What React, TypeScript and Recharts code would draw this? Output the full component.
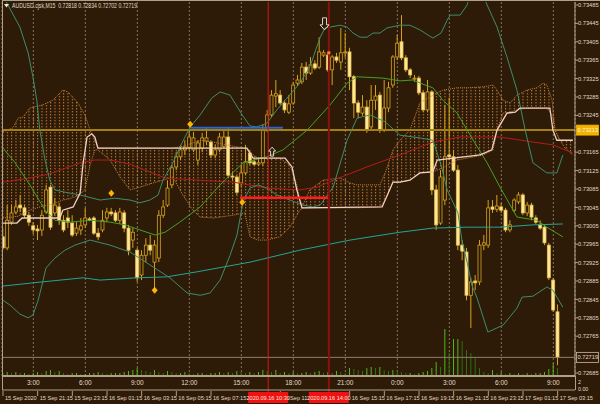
import React from 'react';
import {
  ComposedChart, Bar, Line, Area, Scatter, XAxis, YAxis, ReferenceLine, CartesianGrid,
} from 'recharts';

// ---------------- data ----------------
const opens = [
  0.72981, 0.72957, 0.73013, 0.73035, 0.73050, 0.73044, 0.73028, 0.73005, 0.72998, 0.72996,
  0.73035, 0.73089, 0.73033, 0.73046, 0.73017, 0.73022, 0.73011, 0.72989, 0.72996, 0.73007,
  0.73020, 0.73022, 0.72989, 0.72996, 0.73022, 0.73035, 0.73033, 0.73017, 0.73033, 0.73000,
  0.72974, 0.72952, 0.72898, 0.72941, 0.72963, 0.72926, 0.72935, 0.73028, 0.73050, 0.73094,
  0.73133, 0.73155, 0.73170, 0.73176, 0.73170, 0.73148, 0.73174, 0.73189, 0.73187, 0.73159,
  0.73170, 0.73178, 0.73198, 0.73113, 0.73111, 0.73098, 0.73120, 0.73163, 0.73144, 0.73139,
  0.73142, 0.73213, 0.73246, 0.73287, 0.73289, 0.73272, 0.73252, 0.73272, 0.73315, 0.73318,
  0.73350, 0.73337, 0.73357, 0.73350, 0.73376, 0.73376, 0.73344, 0.73372, 0.73361, 0.73381,
  0.73383, 0.73329, 0.73272, 0.73250, 0.73263, 0.73220, 0.73278, 0.73289, 0.73213, 0.73261,
  0.73311, 0.73372, 0.73405, 0.73370, 0.73344, 0.73324, 0.73326, 0.73294, 0.73257, 0.73296,
  0.73083, 0.73011, 0.73061, 0.73159, 0.73155, 0.73126, 0.72963, 0.72948, 0.72854, 0.72885,
  0.72883, 0.72963, 0.72963, 0.73046, 0.73041, 0.73046, 0.73039, 0.72996, 0.73039, 0.73057,
  0.73072, 0.73033, 0.73050, 0.73022, 0.73007, 0.73002, 0.72963, 0.72887, 0.72818,
];
const highs = [
  0.73000, 0.73050, 0.73050, 0.73061, 0.73072, 0.73050, 0.73035, 0.73013, 0.73007, 0.73039,
  0.73094, 0.73094, 0.73065, 0.73055, 0.73028, 0.73039, 0.73028, 0.73013, 0.73022, 0.73044,
  0.73024, 0.73026, 0.73000, 0.73039, 0.73044, 0.73044, 0.73039, 0.73044, 0.73039, 0.73007,
  0.73000, 0.72957, 0.72952, 0.72978, 0.72985, 0.72974, 0.73039, 0.73061, 0.73104, 0.73137,
  0.73165, 0.73181, 0.73191, 0.73213, 0.73209, 0.73191, 0.73207, 0.73218, 0.73191, 0.73181,
  0.73207, 0.73213, 0.73218, 0.73122, 0.73115, 0.73137, 0.73181, 0.73170, 0.73152, 0.73152,
  0.73224, 0.73257, 0.73300, 0.73322, 0.73300, 0.73278, 0.73289, 0.73318, 0.73333, 0.73359,
  0.73361, 0.73372, 0.73365, 0.73415, 0.73387, 0.73383, 0.73376, 0.73381, 0.73435, 0.73424,
  0.73392, 0.73333, 0.73278, 0.73289, 0.73278, 0.73311, 0.73311, 0.73296, 0.73322, 0.73318,
  0.73376, 0.73420, 0.73463, 0.73376, 0.73348, 0.73333, 0.73331, 0.73300, 0.73322, 0.73300,
  0.73094, 0.73126, 0.73268, 0.73283, 0.73170, 0.73137, 0.72974, 0.72957, 0.72892, 0.72898,
  0.72974, 0.72985, 0.73061, 0.73061, 0.73072, 0.73055, 0.73044, 0.73017, 0.73065, 0.73078,
  0.73076, 0.73057, 0.73055, 0.73028, 0.73017, 0.73007, 0.72968, 0.72892, 0.72834,
];
const lows = [
  0.72952, 0.72952, 0.73007, 0.73031, 0.73035, 0.73022, 0.73005, 0.72987, 0.72974, 0.72983,
  0.73031, 0.72996, 0.73026, 0.73007, 0.72991, 0.73000, 0.72981, 0.72983, 0.72985, 0.73000,
  0.73015, 0.72985, 0.72974, 0.72991, 0.73013, 0.73026, 0.73013, 0.73009, 0.72991, 0.72941,
  0.72957, 0.72883, 0.72887, 0.72926, 0.72941, 0.72865, 0.72926, 0.73022, 0.73046, 0.73087,
  0.73126, 0.73148, 0.73159, 0.73170, 0.73165, 0.73137, 0.73165, 0.73181, 0.73152, 0.73152,
  0.73165, 0.73174, 0.73109, 0.73104, 0.73072, 0.73091, 0.73115, 0.73137, 0.73135, 0.73135,
  0.73135, 0.73209, 0.73241, 0.73263, 0.73268, 0.73250, 0.73248, 0.73268, 0.73309, 0.73313,
  0.73322, 0.73333, 0.73344, 0.73346, 0.73372, 0.73339, 0.73311, 0.73359, 0.73344, 0.73370,
  0.73300, 0.73239, 0.73239, 0.73244, 0.73207, 0.73213, 0.73257, 0.73207, 0.73209, 0.73252,
  0.73305, 0.73365, 0.73365, 0.73339, 0.73326, 0.73318, 0.73289, 0.73252, 0.73252, 0.73072,
  0.72996, 0.73007, 0.73050, 0.73148, 0.73122, 0.72952, 0.72930, 0.72843, 0.72783, 0.72865,
  0.72876, 0.72952, 0.72957, 0.73033, 0.73035, 0.73033, 0.72991, 0.72991, 0.73035, 0.73052,
  0.73028, 0.73026, 0.73017, 0.73009, 0.72996, 0.72963, 0.72887, 0.72818, 0.72702,
];
const closes = [
  0.72957, 0.73017, 0.73033, 0.73046, 0.73044, 0.73028, 0.73013, 0.72996, 0.72994, 0.73028,
  0.73083, 0.73002, 0.73050, 0.73017, 0.72996, 0.73013, 0.72985, 0.73000, 0.73005, 0.73022,
  0.73017, 0.72989, 0.72981, 0.73017, 0.73035, 0.73031, 0.73017, 0.73035, 0.73000, 0.72952,
  0.72991, 0.72892, 0.72941, 0.72963, 0.72952, 0.72963, 0.73028, 0.73046, 0.73087, 0.73131,
  0.73155, 0.73170, 0.73176, 0.73198, 0.73196, 0.73185, 0.73196, 0.73196, 0.73159, 0.73170,
  0.73198, 0.73198, 0.73115, 0.73111, 0.73078, 0.73120, 0.73144, 0.73142, 0.73139, 0.73142,
  0.73213, 0.73246, 0.73289, 0.73292, 0.73272, 0.73257, 0.73270, 0.73311, 0.73322, 0.73350,
  0.73337, 0.73355, 0.73348, 0.73383, 0.73381, 0.73344, 0.73372, 0.73365, 0.73381, 0.73383,
  0.73329, 0.73272, 0.73252, 0.73263, 0.73213, 0.73278, 0.73287, 0.73213, 0.73261, 0.73305,
  0.73372, 0.73402, 0.73370, 0.73344, 0.73333, 0.73326, 0.73294, 0.73257, 0.73296, 0.73083,
  0.73007, 0.73111, 0.73155, 0.73155, 0.73126, 0.72963, 0.72950, 0.72854, 0.72883, 0.72881,
  0.72963, 0.72968, 0.73044, 0.73041, 0.73048, 0.73039, 0.72996, 0.73007, 0.73061, 0.73072,
  0.73033, 0.73050, 0.73024, 0.73013, 0.73000, 0.72968, 0.72892, 0.72822, 0.72719,
];
const volumes = [
  60, 80, 60, 80, 60, 60, 40, 60, 80, 60,
  100, 120, 80, 100, 60, 40, 60, 60, 40, 40,
  60, 60, 80, 60, 40, 60, 60, 60, 80, 100,
  120, 160, 120, 100, 80, 120, 80, 60, 100, 80,
  60, 60, 80, 60, 40, 60, 60, 40, 60, 60,
  80, 60, 80, 60, 100, 80, 60, 80, 60, 80,
  120, 100, 80, 120, 60, 80, 60, 80, 60, 60,
  80, 60, 80, 100, 60, 80, 60, 100, 80, 60,
  160, 140, 120, 100, 160, 180, 160, 180, 120, 100,
  120, 100, 80, 60, 60, 40, 60, 80, 100, 160,
  280, 180, 940, 460, 740, 740, 700, 520, 460, 360,
  160, 80, 60, 120, 60, 80, 40, 60, 40, 60,
  40, 60, 40, 60, 60, 80, 140, 260, 160,
];

// indicator lines: [bar, price]
const upperBand: [number, number][] = [
  [0, 0.73507], [0.9, 0.73489], [3.9, 0.73437], [5.8, 0.73381], [6.9, 0.73329], [7.8, 0.73278],
  [8.5, 0.73213], [9.7, 0.73148], [10.8, 0.73104], [12, 0.73083], [14.3, 0.73078], [17.8, 0.73072],
  [22.4, 0.73061], [25.8, 0.73065], [29.3, 0.73061], [31.6, 0.73055], [33.9, 0.73061], [35.8, 0.73072],
  [36.9, 0.73104], [39.2, 0.73142], [41.3, 0.73185], [43.2, 0.73220], [45.5, 0.73246], [48.2, 0.73283],
  [50.1, 0.73296], [52.4, 0.73289], [55.2, 0.73246], [57, 0.73222], [58.6, 0.73220], [60.9, 0.73228],
  [63.2, 0.73257], [68.5, 0.73315], [70.8, 0.73350], [73.2, 0.73415], [74.3, 0.73435], [75.5, 0.73437],
  [77.8, 0.73441], [79.4, 0.73437], [80.8, 0.73424], [82.4, 0.73415], [84, 0.73415], [85.4, 0.73424],
  [87, 0.73424], [88.6, 0.73435], [91.6, 0.73441], [93.9, 0.73441], [96.2, 0.73431], [99.2, 0.73413],
  [101.1, 0.73424], [102.5, 0.73452], [103.2, 0.73463], [105.5, 0.73463], [107.1, 0.73485], [108.2, 0.73518],
  [110.1, 0.73522], [111.2, 0.73496], [114, 0.73437], [116.3, 0.73372], [118.6, 0.73300], [120.5, 0.73213],
  [122.3, 0.73142], [125.5, 0.73120], [127.8, 0.73120], [129.2, 0.73159],
];
const lowerBand: [number, number][] = [
  [0, 0.72843], [1.6, 0.72833], [3.9, 0.72813], [5.8, 0.72805], [6.9, 0.72811], [8.1, 0.72843],
  [9, 0.72876], [9.9, 0.72913], [12, 0.72935], [14.3, 0.72952], [16.6, 0.72963], [20.1, 0.72974],
  [24.7, 0.72963], [29.3, 0.72948], [33.9, 0.72920], [38.5, 0.72892], [42.5, 0.72859], [45.5, 0.72854],
  [47.8, 0.72859], [50.1, 0.72887], [52.4, 0.72941], [54, 0.72985], [55.4, 0.73057], [57, 0.73087],
  [58.8, 0.73094], [60.9, 0.73087], [63.2, 0.73072], [66.2, 0.73061], [69.2, 0.73050], [71.5, 0.73046],
  [73.2, 0.73050], [76.2, 0.73089], [79.4, 0.73191], [81.7, 0.73239], [84.7, 0.73246], [88.2, 0.73231],
  [91.6, 0.73202], [96.2, 0.73196], [99.2, 0.73191], [101.1, 0.73137], [102.5, 0.73083], [105, 0.73033],
  [105.9, 0.72974], [107.1, 0.72926], [108.2, 0.72876], [109.4, 0.72848], [111.9, 0.72774], [115.4, 0.72789],
  [118.6, 0.72826], [119.8, 0.72850], [122.3, 0.72852], [125.5, 0.72872], [126.9, 0.72865], [129.2, 0.72828],
];
const middleBand: [number, number][] = [
  [0, 0.73174], [2.8, 0.73142], [6.2, 0.73094], [9.7, 0.73039], [12, 0.73017], [15.5, 0.73013],
  [20.1, 0.73017], [24.7, 0.73013], [28.2, 0.73007], [31.6, 0.72996], [35.1, 0.72985], [37.4, 0.72991],
  [40.8, 0.73013], [45.5, 0.73046], [50.1, 0.73094], [55.4, 0.73142], [60.9, 0.73155], [64.6, 0.73170],
  [70.2, 0.73213], [75.5, 0.73268], [79.4, 0.73315], [81.7, 0.73329], [87.7, 0.73326], [91.6, 0.73320],
  [94.6, 0.73322], [97.4, 0.73311], [99.2, 0.73305], [101.5, 0.73278], [104.8, 0.73250], [107.1, 0.73213],
  [111.7, 0.73142], [114.7, 0.73089], [118.6, 0.73024], [123.2, 0.73017], [125.5, 0.73002], [129.2, 0.72981],
];
const redAverage: [number, number][] = [
  [0, 0.73100], [6.2, 0.73109], [10.8, 0.73118], [17.8, 0.73142], [21.2, 0.73148], [24.7, 0.73148],
  [29.3, 0.73139], [33.9, 0.73122], [37.4, 0.73109], [45.5, 0.73104], [53.1, 0.73100], [60.9, 0.73087],
  [68.5, 0.73083], [72.5, 0.73089], [76.2, 0.73104], [84, 0.73133], [91.6, 0.73159], [99.2, 0.73187],
  [105.5, 0.73198], [114.7, 0.73198], [122.3, 0.73187], [126.9, 0.73181], [131.5, 0.73163],
];
const longAverage: [number, number][] = [
  [0, 0.72874], [6.9, 0.72881], [18.5, 0.72892], [22.4, 0.72887], [30.9, 0.72892], [37.8, 0.72894],
  [44.8, 0.72905], [57, 0.72926], [68.5, 0.72952], [80.1, 0.72974], [91.6, 0.72991], [99.2, 0.73000],
  [107.1, 0.73002], [114.7, 0.73002], [122.3, 0.73007], [129.2, 0.73009],
];
const kijun: [number, number][] = [
  [0, 0.73011], [3.2, 0.73011], [4.4, 0.73022], [12.5, 0.73022], [13.2, 0.73024], [13.8, 0.73039],
  [16.2, 0.73046], [17.8, 0.73076], [18.5, 0.73142], [19.4, 0.73198], [20.5, 0.73205], [21.2, 0.73198],
  [21.9, 0.73174], [56.3, 0.73174], [57, 0.73163], [57.7, 0.73152], [65.1, 0.73152], [66.7, 0.73133],
  [67.8, 0.73083], [69, 0.73044], [87.5, 0.73046], [90, 0.73100], [91.6, 0.73100], [93.9, 0.73104],
  [96.2, 0.73120], [99.2, 0.73122], [100.2, 0.73148], [110.1, 0.73159], [112.8, 0.73170], [114, 0.73213],
  [116.3, 0.73250], [118.2, 0.73252], [119.3, 0.73261], [126.2, 0.73261], [126.9, 0.73213], [127.8, 0.73191],
  [131.5, 0.73191],
];
// cloud: [bar, upper span, lower span]
const kumo: [number, number, number][] = [
  [0, 0.73209, 0.73022], [2.3, 0.73218, 0.73024], [3.5, 0.73239, 0.73026], [4.6, 0.73241, 0.73031],
  [6.2, 0.73261, 0.73039], [9.2, 0.73268, 0.73048], [11.5, 0.73278, 0.73052], [13.8, 0.73300, 0.73061],
  [15, 0.73296, 0.73063], [17.3, 0.73272, 0.73070], [18.9, 0.73246, 0.73083], [20.1, 0.73213, 0.73137],
  [21.2, 0.73191, 0.73170], [21.9, 0.73174, 0.73170], [24.7, 0.73174, 0.73148], [27, 0.73174, 0.73111],
  [29.3, 0.73174, 0.73083], [31.6, 0.73174, 0.73089], [34.6, 0.73174, 0.73098], [36.9, 0.73174, 0.73104],
  [39.2, 0.73174, 0.73111], [41.5, 0.73178, 0.73072], [43.8, 0.73185, 0.73039], [45.5, 0.73191, 0.73024],
  [48.5, 0.73187, 0.73022], [53.1, 0.73178, 0.73028], [55.8, 0.73174, 0.73033], [57, 0.73165, 0.72981],
  [58.8, 0.73152, 0.72974], [60.9, 0.73152, 0.72974], [63.9, 0.73152, 0.72981], [66.2, 0.73137, 0.73002],
  [67.8, 0.73094, 0.73028], [68.5, 0.73061, 0.73039], [69.2, 0.73050, 0.73044], [70.8, 0.73083, 0.73044],
  [73.8, 0.73104, 0.73044], [77.8, 0.73109, 0.73044], [80.1, 0.73098, 0.73044], [81.7, 0.73094, 0.73044],
  [87, 0.73094, 0.73046], [88.2, 0.73120, 0.73061], [90, 0.73170, 0.73100], [91.6, 0.73191, 0.73100],
  [93.9, 0.73213, 0.73104], [96.2, 0.73272, 0.73120], [99.2, 0.73289, 0.73122], [101.5, 0.73300, 0.73131],
  [104.8, 0.73305, 0.73148], [107.1, 0.73305, 0.73152], [110.8, 0.73307, 0.73159], [113.1, 0.73311, 0.73170],
  [114, 0.73300, 0.73213], [115.4, 0.73278, 0.73250], [117, 0.73272, 0.73252], [118.6, 0.73289, 0.73257],
  [120.9, 0.73300, 0.73261], [123.2, 0.73305, 0.73261], [124.6, 0.73315, 0.73261], [125.5, 0.73311, 0.73261],
  [126.7, 0.73278, 0.73246], [127.4, 0.73213, 0.73213], [128.5, 0.73191, 0.73191], [129.7, 0.73191, 0.73174],
  [131.5, 0.73191, 0.73159],
];

// markers
const diamonds: [number, number][] = [[43.2, 0.73226], [25, 0.73076], [55.2, 0.73056], [35, 0.72865]];
const downArrows: [number, number][] = [[74.2, 0.73431]];
const upArrows: [number, number][] = [[62.1, 0.73176]];
const orangeDots: [number, number][] = [[75.2, 0.73381]];
const blueLevel = { from: 43.2, to: 64.6, price: 0.73218 };
const redLevel = { from: 54.7, to: 75.0, price: 0.73066 };
const goldLevel = 0.73213;
const goldLabel = '0.73213';
const bidLevel = 0.72719;
const bidLabel = '0.72719';
const eventBars = [61.2, 75.2];
const eventLabels = ['2020.09.16 10:30', '2020.09.16 14:00'];

// axes (labels hidden behind the price boxes / event boxes are left out)
const priceTicks = [
  0.72685, 0.72765, 0.72805, 0.72845, 0.72885, 0.72925, 0.72965, 0.73005, 0.73045, 0.73085,
  0.73125, 0.73165, 0.73245, 0.73285, 0.73325, 0.73365, 0.73405, 0.73445, 0.73485,
];
const timeTickBars = [7, 19, 31, 43, 55, 67, 79, 91, 103, 115, 127];
const timeTickLabels = ['3:00', '6:00', '9:00', '12:00', '15:00', '18:00', '21:00', '0:00', '3:00', '6:00', '9:00'];
const dateTickBars = [0, 8, 16, 24, 32, 40, 48, 64, 80, 88, 96, 104, 112, 120, 128];
const dateTickLabels = [
  '15 Sep 2020', '15 Sep 21:15', '15 Sep 23:15', '16 Sep 01:15', '16 Sep 03:15', '16 Sep 05:15',
  '16 Sep 07:15', '16 Sep 11:15', '16 Sep 15:15', '16 Sep 17:15',
  '16 Sep 19:15', '16 Sep 21:15', '16 Sep 23:15', '17 Sep 01:15', '17 Sep 03:15',
];
const headerText = 'AUDUSD.cjsk,M15  0.72818 0.72834 0.72702 0.72719';

// ---------------- styles ----------------
const X_DOMAIN: [number, number] = [-0.23, 132];
const Y_DOMAIN: [number, number] = [0.726785, 0.734915];
const FONT = 'Liberation Sans, Arial, sans-serif';
const BG = '#2d1b07';
const AXIS = '#b0a08a';
const TEXT = '#e4dac8';
const GRID = '#85735f';
const BULL = '#d6a21e';
const BEAR_FILL = '#ffe79a';
const BEAR_EDGE = '#e8c050';
const BAND = '#3f8c6c';
const MID = '#45a025';
const LONG_MA = '#25a595';
const RED_MA = '#b51a1a';
const KIJUN = '#efcfc6';
const CLOUD = '#c47e3b';
const VOL_UP = '#4cb81c';
const VOL_DN = '#2f6e12';
const EVENT_BOX = '#f01212';

const candleData = opens.map((o, i) => ({
  i, o, h: highs[i], l: lows[i], c: closes[i], hl: [lows[i], highs[i]],
  v: volumes[i], up: i === 0 || volumes[i] >= volumes[i - 1],
}));
const toPts = (arr: [number, number][]) => arr.map(([i, p]) => ({ i, p }));
const kumoData = kumo.map(([i, hi, lo]) => ({ i, hi, lo, r: [lo, hi] }));
const stripTicks = [...dateTickBars, ...eventBars];

const Candle = (props: any) => {
  const { x, y, width, height, payload } = props;
  if (!payload || x == null || y == null) return null;
  const { o, h, l, c } = payload;
  const yTop = Math.min(y, y + height);
  const hh = Math.abs(height);
  const k = h - l > 0 ? hh / (h - l) : 0;
  const cx = x + width / 2;
  const yO = yTop + (h - o) * k;
  const yC = yTop + (h - c) * k;
  const top = Math.min(yO, yC);
  const bh = Math.max(1, Math.abs(yO - yC));
  const bull = c >= o;
  return (
    <g>
      <line x1={cx} x2={cx} y1={yTop} y2={yTop + hh} stroke={BULL} strokeWidth={1} />
      <rect x={cx - 1.5} y={top} width={3} height={bh}
        fill={bull ? BG : BEAR_FILL} stroke={bull ? BULL : BEAR_EDGE} strokeWidth={0.8} />
    </g>
  );
};

const VolumeBar = (props: any) => {
  const { x, y, width, height, payload } = props;
  if (!payload || !height) return null;
  return <rect x={x + width / 2 - 0.5} y={Math.min(y, y + height)} width={1} height={Math.abs(height)}
    fill={payload.up ? VOL_UP : VOL_DN} />;
};

const Diamond = (p: any) => (
  <polygon points={`${p.cx},${p.cy - 3.5} ${p.cx + 3},${p.cy} ${p.cx},${p.cy + 3.5} ${p.cx - 3},${p.cy}`} fill="#ffb400" />
);
const DownArrow = (p: any) => {
  const { cx, cy } = p;
  return <polygon fill="none" stroke="#ddd6cc" strokeWidth={1}
    points={`${cx - 2},${cy - 12} ${cx + 2},${cy - 12} ${cx + 2},${cy - 5} ${cx + 4.5},${cy - 5} ${cx},${cy} ${cx - 4.5},${cy - 5} ${cx - 2},${cy - 5}`} />;
};
const UpArrow = (p: any) => {
  const { cx, cy } = p;
  return <polygon fill="none" stroke="#ddd6cc" strokeWidth={1}
    points={`${cx - 1.5},${cy + 9} ${cx + 1.5},${cy + 9} ${cx + 1.5},${cy + 4} ${cx + 3.5},${cy + 4} ${cx},${cy} ${cx - 3.5},${cy + 4} ${cx - 1.5},${cy + 4}`} />;
};
const OrangeDot = (p: any) => <rect x={p.cx - 1.5} y={p.cy - 1.5} width={3} height={3} fill="#ff7a3a" />;

const PriceTick = (p: any) => (
  <text x={p.x} y={p.y + 2.1} fontSize={5.7} fill={TEXT} fontFamily={FONT}>{Number(p.payload.value).toFixed(5)}</text>
);
const TimeTick = (p: any) => {
  const k = timeTickBars.indexOf(p.payload.value);
  return <text x={p.x} y={p.y + 8.5} textAnchor="middle" fontSize={6.5} fill={TEXT} fontFamily={FONT}>{timeTickLabels[k]}</text>;
};
const DateTick = (p: any) => {
  const v = p.payload.value;
  const e = eventBars.indexOf(v);
  if (e >= 0) {
    return (
      <g>
        <rect x={p.x - 20} y={p.y + 2} width={40} height={11} fill={EVENT_BOX} />
        <text x={p.x} y={p.y + 10} textAnchor="middle" fontSize={5.6} fill="#ffe6de" fontFamily={FONT}>{eventLabels[e]}</text>
      </g>
    );
  }
  const k = dateTickBars.indexOf(v);
  return (
    <g>
      <line x1={p.x} x2={p.x} y1={p.y + 1} y2={p.y + 6} stroke={AXIS} strokeWidth={1} />
      <text x={p.x + 2} y={p.y + 9.5} fontSize={5.6} fill={TEXT} fontFamily={FONT}>{dateTickLabels[k]}</text>
    </g>
  );
};

const levelShape = (label: string, line: string, lineW: number, box: string, boxEdge: string, txt: string) => (p: any) => {
  const x0 = Math.min(p.x1, p.x2);
  const x1 = Math.max(p.x1, p.x2);
  const y = p.y1;
  return (
    <g>
      <line x1={x0} x2={x1} y1={y} y2={y} stroke={line} strokeWidth={lineW} />
      <rect x={x1 + 1.5} y={y - 5} width={22} height={10} fill={box} stroke={boxEdge} strokeWidth={0.8} />
      <text x={x1 + 2.5} y={y + 2.1} fontSize={5.7} fill={txt} fontFamily={FONT}>{label}</text>
    </g>
  );
};
const eventShape = (color: string, w: number) => (p: any) => {
  const x = p.x1;
  const yt = Math.min(p.y1, p.y2);
  const yb = Math.max(p.y1, p.y2);
  return <line x1={x} x2={x} y1={yt} y2={yb + 16} stroke={color} strokeWidth={w} />;
};

export default function App() {
  return (
    <div style={{ position: 'fixed', left: 0, top: 0, width: 600, height: 404, background: BG, overflow: 'hidden' }}>
      <ComposedChart width={600} height={404} data={candleData} margin={{ top: 2, right: 0, bottom: 0, left: 2 }}>
        <defs>
          <pattern id="kumoHatch" patternUnits="userSpaceOnUse" x={2.5} y={0} width={4.3333} height={3}>
            <rect x={0} y={0} width={1} height={1.4} fill={CLOUD} />
          </pattern>
        </defs>
        <XAxis xAxisId="zStrip" dataKey="i" type="number" domain={X_DOMAIN} allowDataOverflow ticks={stripTicks}
          interval={0} height={14} tickSize={0} tickMargin={0} tickLine={false}
          axisLine={{ stroke: AXIS }} tick={DateTick} />
        <XAxis xAxisId="aTime" dataKey="i" type="number" domain={X_DOMAIN} allowDataOverflow ticks={timeTickBars}
          interval={0} height={14} tickSize={0} tickMargin={0} tickLine={false}
          axisLine={{ stroke: AXIS, strokeWidth: 2 }} tick={TimeTick} />
        <XAxis xAxisId="c" dataKey="i" type="number" domain={X_DOMAIN} allowDataOverflow hide height={0} />
        <XAxis xAxisId="v" dataKey="i" type="number" domain={X_DOMAIN} allowDataOverflow hide height={0} />
        <YAxis yAxisId="p" orientation="right" width={25} domain={Y_DOMAIN} allowDataOverflow ticks={priceTicks}
          interval={0} tickSize={3} tickMargin={0} axisLine={{ stroke: AXIS }} tickLine={{ stroke: AXIS }} tick={PriceTick} />
        <YAxis yAxisId="v" hide width={0} domain={[0, 7480]} allowDataOverflow />

        <CartesianGrid xAxisId="aTime" yAxisId="p" horizontal={false} stroke={GRID} strokeDasharray="2 2" />

        <Area xAxisId="aTime" yAxisId="p" data={kumoData} dataKey="r" type="linear" fill="url(#kumoHatch)"
          fillOpacity={1} stroke="none" isAnimationActive={false} />
        <Line xAxisId="aTime" yAxisId="p" data={kumoData} dataKey="hi" type="linear" stroke={CLOUD} strokeWidth={1}
          strokeDasharray="1 1" dot={false} isAnimationActive={false} />
        <Line xAxisId="aTime" yAxisId="p" data={kumoData} dataKey="lo" type="linear" stroke={CLOUD} strokeWidth={1}
          strokeDasharray="1 1" dot={false} isAnimationActive={false} />

        <Bar xAxisId="v" yAxisId="v" dataKey="v" barSize={2} shape={VolumeBar} isAnimationActive={false} />

        <ReferenceLine xAxisId="aTime" yAxisId="p" y={goldLevel}
          shape={levelShape(goldLabel, '#a4800f', 2, '#f2b400', '#f2b400', '#fff4d0')} />
        <ReferenceLine xAxisId="aTime" yAxisId="p" y={bidLevel}
          shape={levelShape(bidLabel, '#8f7f6e', 1, BG, '#cbbba5', TEXT)} />

        <Line xAxisId="aTime" yAxisId="p" data={toPts(longAverage)} dataKey="p" type="linear" stroke={LONG_MA} strokeWidth={1} dot={false} isAnimationActive={false} />
        <Line xAxisId="aTime" yAxisId="p" data={toPts(redAverage)} dataKey="p" type="linear" stroke={RED_MA} strokeWidth={1} dot={false} isAnimationActive={false} />
        <Line xAxisId="aTime" yAxisId="p" data={toPts(upperBand)} dataKey="p" type="linear" stroke={BAND} strokeWidth={1} dot={false} isAnimationActive={false} />
        <Line xAxisId="aTime" yAxisId="p" data={toPts(lowerBand)} dataKey="p" type="linear" stroke={BAND} strokeWidth={1} dot={false} isAnimationActive={false} />
        <Line xAxisId="aTime" yAxisId="p" data={toPts(middleBand)} dataKey="p" type="linear" stroke={MID} strokeWidth={1} dot={false} isAnimationActive={false} />
        <Line xAxisId="aTime" yAxisId="p" data={toPts(kijun)} dataKey="p" type="linear" stroke={KIJUN} strokeWidth={1.3} dot={false} isAnimationActive={false} />

        <ReferenceLine xAxisId="aTime" yAxisId="p" stroke="#2a66d6" strokeWidth={2}
          segment={[{ x: blueLevel.from, y: blueLevel.price }, { x: blueLevel.to, y: blueLevel.price }]} />
        <ReferenceLine xAxisId="aTime" yAxisId="p" stroke="#ff1e1e" strokeWidth={2.5}
          segment={[{ x: redLevel.from, y: redLevel.price }, { x: redLevel.to, y: redLevel.price }]} />

        <Bar xAxisId="c" yAxisId="p" dataKey="hl" barSize={4} shape={Candle} isAnimationActive={false} />

        <ReferenceLine xAxisId="aTime" yAxisId="p" x={eventBars[0]} shape={eventShape('#dc1414', 1)} />
        <ReferenceLine xAxisId="aTime" yAxisId="p" x={eventBars[1]} shape={eventShape('#8c1010', 2)} />

        <Scatter xAxisId="aTime" yAxisId="p" data={toPts(diamonds)} dataKey="p" shape={Diamond} isAnimationActive={false} />
        <Scatter xAxisId="aTime" yAxisId="p" data={toPts(downArrows)} dataKey="p" shape={DownArrow} isAnimationActive={false} />
        <Scatter xAxisId="aTime" yAxisId="p" data={toPts(upArrows)} dataKey="p" shape={UpArrow} isAnimationActive={false} />
        <Scatter xAxisId="aTime" yAxisId="p" data={toPts(orangeDots)} dataKey="p" shape={OrangeDot} isAnimationActive={false} />
      </ComposedChart>
      <svg width={600} height={404} style={{ position: 'absolute', left: 0, top: 0, pointerEvents: 'none' }}>
        <line x1={2} x2={600} y1={0.5} y2={0.5} stroke={AXIS} strokeWidth={1} />
        <line x1={2.5} x2={2.5} y1={0} y2={390} stroke={AXIS} strokeWidth={1} />
        <line x1={575.5} x2={575.5} y1={376} y2={390} stroke={AXIS} strokeWidth={1} />
        <polygon points="4,4 9,4 6.5,7.5" fill="#f0e8dc" />
        <text x={12} y={8} fontSize={6.5} fill={TEXT} fontFamily={FONT} textLength={125}
          lengthAdjust="spacingAndGlyphs" style={{ whiteSpace: 'pre' }}>{headerText}</text>
        <text x={578} y={384} fontSize={5.3} fill={TEXT} fontFamily={FONT}>2</text>
        <text x={578} y={390.5} fontSize={5.3} fill={TEXT} fontFamily={FONT}>0.00</text>
      </svg>
    </div>
  );
}
